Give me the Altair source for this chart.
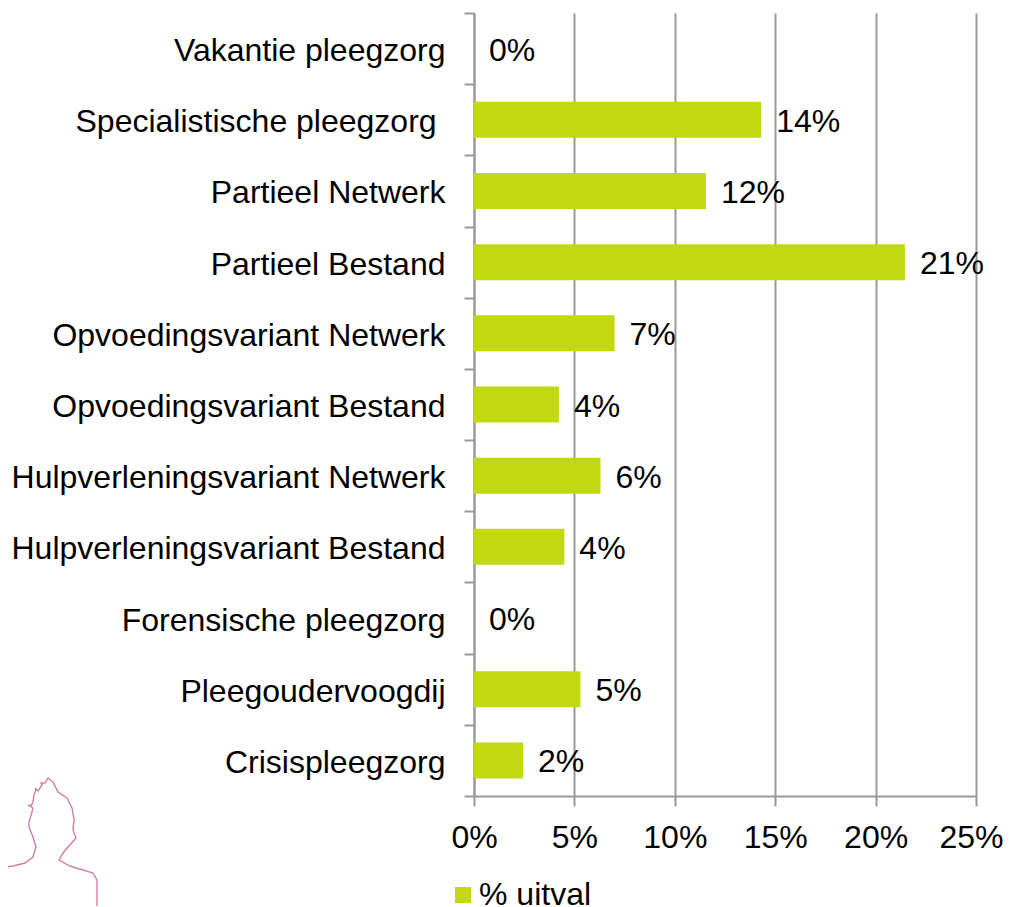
import altair as alt
import pandas as pd

categories = ["Vakantie pleegzorg", "Specialistische pleegzorg\u00a0\u200b", "Partieel Netwerk", "Partieel Bestand",
              "Opvoedingsvariant Netwerk", "Opvoedingsvariant Bestand", "Hulpverleningsvariant Netwerk",
              "Hulpverleningsvariant Bestand", "Forensische pleegzorg", "Pleegoudervoogdij", "Crisispleegzorg"]
values = [0, 14.3, 11.55, 21.46, 7.0, 4.23, 6.3, 4.5, 0, 5.3, 2.44]
labels = ["0%", "14%", "12%", "21%", "7%", "4%", "6%", "4%", "0%", "5%", "2%"]
series_name = "% uitval"

# decorative silhouette outline, in picture units
sil_x = [0, 13, 25, 33, 36, 33, 29, 29, 32, 33, 28, 31, 33, 34, 36, 35, 38, 42, 41, 45, 48, 53, 58, 67, 72, 74, 73, 76, 68, 63, 59, 70, 83, 93, 97, 97]
sil_y = [868, 866, 863, 857, 847, 837, 827, 822, 812, 808, 805, 806, 802, 795, 790, 788, 791, 785, 783, 783, 778, 782, 792, 798, 808, 820, 830, 838, 847, 853, 860, 866, 870, 873, 880, 907]

GREEN = "#c2d911"
GRAY = "#999999"
FONT = "Liberation Sans"
FS = 32
W, H = 502, 783

df = pd.DataFrame({"cat": categories, "val": values, "label": labels, "series": series_name})
sil = pd.DataFrame({"px": sil_x, "py": sil_y, "i": range(len(sil_x))})

x = alt.X("val:Q", scale=alt.Scale(domain=[0, 25], nice=False),
          axis=alt.Axis(values=[0, 5, 10, 15, 20, 25], labelExpr="datum.value + '%'", title=None,
                        grid=True, gridColor=GRAY, gridWidth=2, domainColor=GRAY, domainWidth=2,
                        tickColor=GRAY, tickWidth=2, tickSize=10, labelPadding=16, labelFontSize=FS,
                        labelFont=FONT, labelColor="black", labelFlush=False, labelOverlap=False,
                        labelOffset={"condition": {"test": "datum.value == 25", "value": -5}, "value": 0}))
y = alt.Y("cat:N", sort=categories, scale=alt.Scale(paddingInner=0, paddingOuter=0),
          axis=alt.Axis(title=None, tickBand="extent", domainColor=GRAY, domainWidth=2, tickColor=GRAY,
                        tickWidth=2, tickSize=10, labelPadding=19, labelFontSize=FS, labelFont=FONT,
                        labelColor="black", labelLimit=600, grid=False, labelOffset=2))

bars = alt.Chart(df).mark_bar(size=36).encode(
    x=x, y=y,
    color=alt.Color("series:N", scale=alt.Scale(range=[GREEN]),
                    legend=alt.Legend(title=None, orient="none", legendX=-27, legendY=866,
                                      symbolType="square", symbolSize=256, symbolStrokeWidth=0,
                                      labelFontSize=FS, labelFont=FONT, labelColor="black", labelOffset=0)))
text = alt.Chart(df).mark_text(align="left", baseline="middle", dx=15, dy=2, fontSize=FS, font=FONT, color="black").encode(
    x=alt.X("val:Q"), y=alt.Y("cat:N", sort=categories), text="label:N")
main = alt.layer(bars, text)

outline = alt.Chart(sil).mark_line(color="#cf7fa8", strokeWidth=1.4, clip=False).encode(
    x=alt.X("px:Q", scale=alt.Scale(domain=[474, 976], range=[0, W], nice=False, zero=False), axis=None),
    y=alt.Y("py:Q", scale=alt.Scale(domain=[13, 796], range=[0, H], nice=False, zero=False), axis=None),
    order="i:Q")

chart = alt.layer(main, outline).resolve_scale(x="independent", y="independent").properties(
    width=W, height=H,
    padding={"left": 466, "top": 5, "right": 28, "bottom": 110},
    autosize=alt.AutoSizeParams(type="none"),
).configure_view(stroke=None)

chart.save("out.html", embed_options={"renderer": "svg", "actions": False})
